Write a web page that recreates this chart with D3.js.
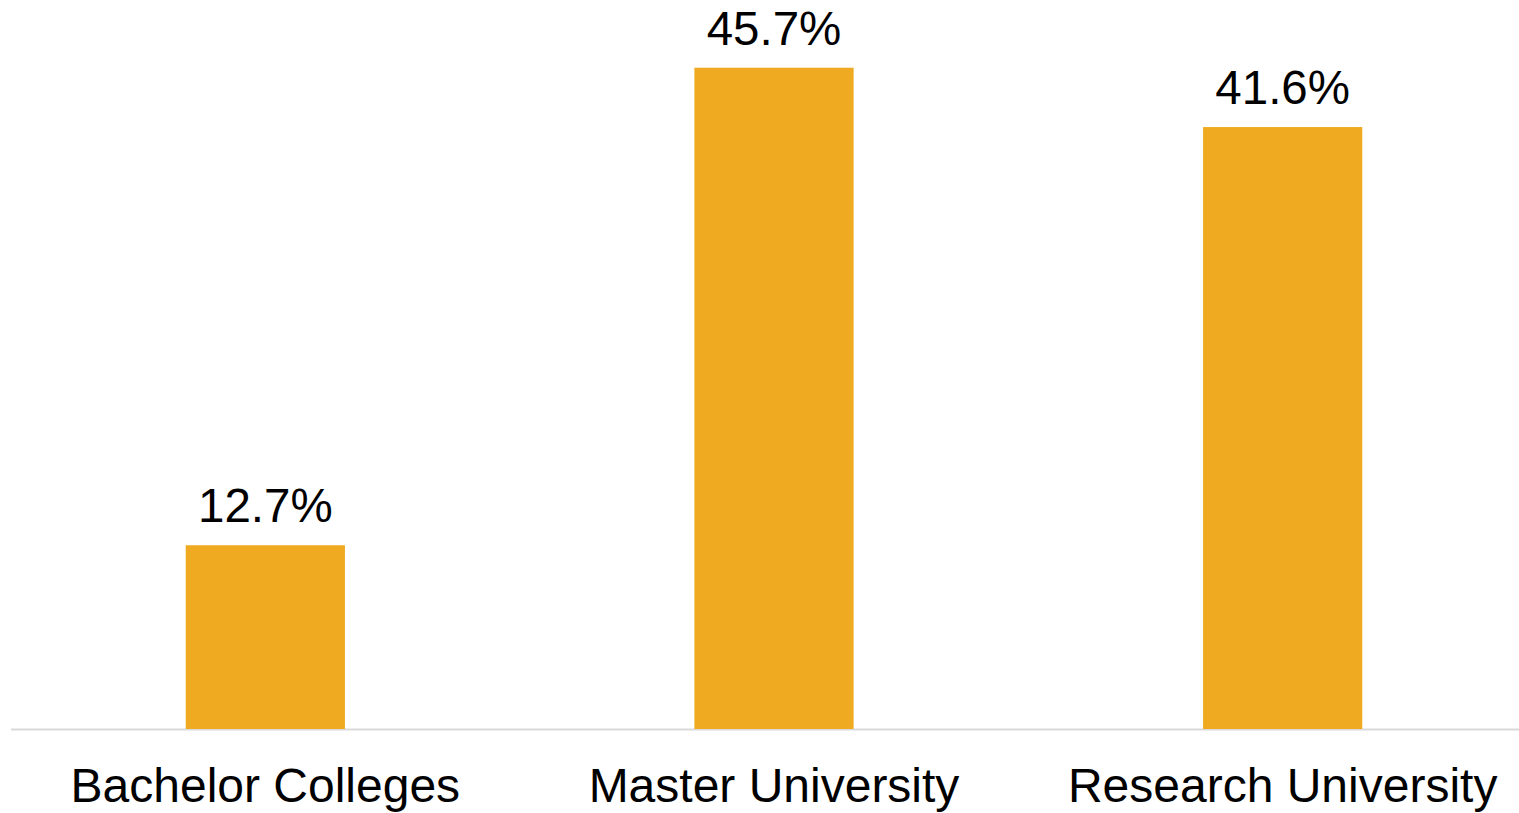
<!DOCTYPE html>
<html><head><meta charset="utf-8">
<script src="https://cdn.jsdelivr.net/npm/d3@7"></script>
<style>body{margin:0;background:#fff;}svg{display:block;}</style>
</head><body>
<script>
const categories = ["Bachelor Colleges", "Master University", "Research University"];
const values = [12.7, 45.7, 41.6];
const valueLabels = ["12.7%", "45.7%", "41.6%"];

const W = 1519, H = 813;
const svg = d3.select("body").append("svg").attr("width", W).attr("height", H);
const x = d3.scaleBand().domain(categories).range([11, 1537]).paddingInner(0.687).paddingOuter(0.3435);
const y = d3.scaleLinear().domain([0, 50]).range([729, 5.5]);

svg.append("line").attr("x1", 11).attr("x2", W).attr("y1", 729.5).attr("y2", 729.5)
  .attr("stroke", "#d9d9d9").attr("stroke-width", 2);

svg.selectAll("rect.bar").data(values).enter().append("rect")
  .attr("x", (d, i) => x(categories[i])).attr("width", x.bandwidth())
  .attr("y", d => y(d)).attr("height", d => y(0) - y(d)).attr("fill", "#EFAA22");

svg.selectAll("text.val").data(values).enter().append("text")
  .attr("x", (d, i) => x(categories[i]) + x.bandwidth() / 2).attr("y", d => y(d) - 23)
  .attr("text-anchor", "middle").attr("font-family", "Liberation Sans, Arial, sans-serif")
  .attr("font-size", 47.5).attr("fill", "#000").text((d, i) => valueLabels[i]);

svg.selectAll("text.cat").data(categories).enter().append("text")
  .attr("x", d => x(d) + x.bandwidth() / 2).attr("y", 802)
  .attr("text-anchor", "middle").attr("font-family", "Liberation Sans, Arial, sans-serif")
  .attr("font-size", 48).attr("fill", "#000").text(d => d);
</script>
</body></html>
